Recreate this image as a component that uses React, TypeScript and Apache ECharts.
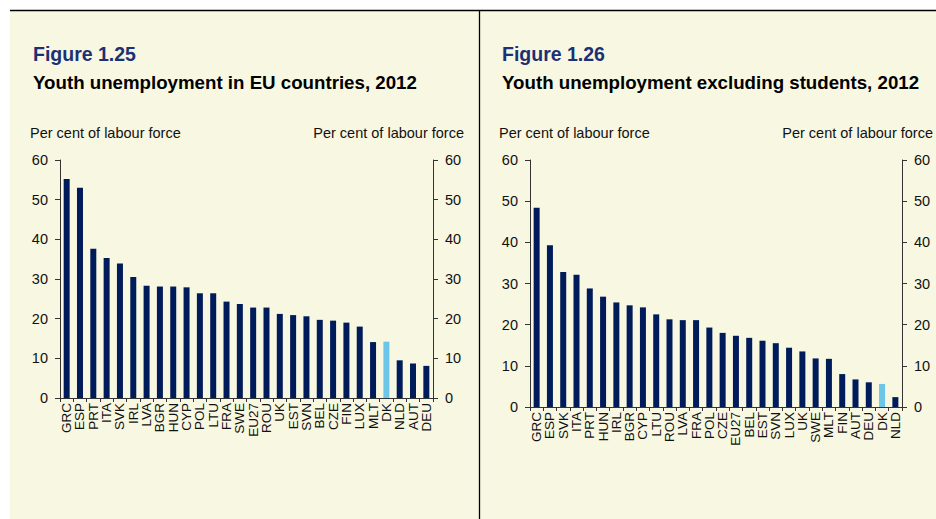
import React, { useEffect, useRef } from "react";
import * as echarts from "echarts";

const leftCategories = ["GRC","ESP","PRT","ITA","SVK","IRL","LVA","BGR","HUN","CYP","POL","LTU","FRA","SWE","EU27","ROU","UK","EST","SVN","BEL","CZE","FIN","LUX","MLT","DK","NLD","AUT","DEU"];
const leftValues = [55.2,53.0,37.6,35.3,33.9,30.5,28.3,28.1,28.1,27.9,26.4,26.4,24.3,23.7,22.8,22.8,21.2,20.9,20.6,19.7,19.5,19.0,18.0,14.1,14.2,9.5,8.7,8.1];

const rightCategories = ["GRC","ESP","SVK","ITA","PRT","HUN","IRL","BGR","CYP","LTU","ROU","LVA","FRA","POL","CZE","EU27","BEL","EST","SVN","LUX","UK","SWE","MLT","FIN","AUT","DEU","DK","NLD"];
const rightValues = [48.4,39.3,32.8,32.1,28.8,26.8,25.4,24.7,24.2,22.5,21.3,21.1,21.1,19.3,18.0,17.3,16.8,16.1,15.5,14.4,13.5,11.8,11.7,8.0,6.7,6.0,5.6,2.4];

const yMin = 0;
const yMax = 60;
const yInterval = 10;
const highlightCategory = "DK";

const leftFigure = "Figure 1.25";
const leftTitle = "Youth unemployment in EU countries, 2012";
const rightFigure = "Figure 1.26";
const rightTitle = "Youth unemployment excluding students, 2012";
const unitLabel = "Per cent of labour force";

const FONT = "'Liberation Sans', Arial, Helvetica, sans-serif";
const NAVY = "#001B5A";
const LIGHT = "#6DC5E8";
const BG = "#F8F7E2";
const AXIS = "#333333";
const TITLE_NAVY = "#1B3174";

export default function App() {
  const ref = useRef<HTMLDivElement>(null);
  useEffect(() => {
    document.body.style.margin = "0";
    const chart = echarts.init(ref.current!, null, { renderer: "svg" });

    const toData = (cats: string[], vals: number[]) =>
      vals.map((v, i) =>
        cats[i] === highlightCategory ? { value: v, itemStyle: { color: LIGHT } } : v
      );

    const xAxisBase = (gridIndex: number, cats: string[]) => ({
      type: "category" as const,
      gridIndex,
      data: cats,
      axisLine: { lineStyle: { color: AXIS, width: 1 } },
      axisTick: { show: true, length: 4, alignWithLabel: false, lineStyle: { color: AXIS } },
      axisLabel: {
        interval: 0,
        rotate: 90,
        margin: 5,
        fontSize: 13.5,
        fontFamily: FONT,
        color: "#111",
      },
    });

    const yAxisBase = (gridIndex: number, position: "left" | "right") => ({
      type: "value" as const,
      gridIndex,
      position,
      min: yMin,
      max: yMax,
      interval: yInterval,
      splitLine: { show: false },
      axisLine: { show: true, lineStyle: { color: AXIS, width: 1 } },
      axisTick: { show: true, length: 5, lineStyle: { color: AXIS } },
      axisLabel: { margin: 12, fontSize: 14.5, fontFamily: FONT, color: "#111" },
    });

    const text = (t: string, x: number, y: number, size: number, weight: string, fill: string, align = "left") => ({
      type: "text",
      x,
      y,
      style: {
        text: t,
        fill,
        font: `${weight} ${size}px ${FONT}`,
        align,
        verticalAlign: "middle",
      },
      z: 10,
    });

    chart.setOption({
      animation: false,
      backgroundColor: "#ffffff",
      graphic: [
        { type: "rect", shape: { x: 10, y: 10, width: 926, height: 509 }, style: { fill: BG }, z: -100 },
        { type: "line", shape: { x1: 10, y1: 10.5, x2: 936, y2: 10.5 }, style: { stroke: "#000", lineWidth: 1.3 }, z: 10 },
        { type: "line", shape: { x1: 479.5, y1: 10, x2: 479.5, y2: 519 }, style: { stroke: "#000", lineWidth: 1.3 }, z: 10 },
        text(leftFigure, 33, 54, 19.5, "bold", TITLE_NAVY),
        text(leftTitle, 33, 82, 18.7, "bold", "#000"),
        text(unitLabel, 30, 133, 14.5, "normal", "#111"),
        text(unitLabel, 464, 133, 14.5, "normal", "#111", "right"),
        text(rightFigure, 502, 54, 19.5, "bold", TITLE_NAVY),
        text(rightTitle, 502, 82, 18.7, "bold", "#000"),
        text(unitLabel, 499, 133, 14.5, "normal", "#111"),
        text(unitLabel, 933, 133, 14.5, "normal", "#111", "right"),
      ],
      grid: [
        { left: 60, right: 936 - 433, top: 160, bottom: 519 - 398 },
        { left: 530, right: 936 - 902, top: 160, bottom: 519 - 407 },
      ],
      xAxis: [xAxisBase(0, leftCategories), xAxisBase(1, rightCategories)],
      yAxis: [
        yAxisBase(0, "left"),
        yAxisBase(0, "right"),
        yAxisBase(1, "left"),
        yAxisBase(1, "right"),
      ],
      series: [
        {
          type: "bar",
          xAxisIndex: 0,
          yAxisIndex: 0,
          data: toData(leftCategories, leftValues),
          barWidth: 6,
          itemStyle: { color: NAVY },
        },
        {
          type: "bar",
          xAxisIndex: 1,
          yAxisIndex: 2,
          data: toData(rightCategories, rightValues),
          barWidth: 6,
          itemStyle: { color: NAVY },
        },
      ],
    });
    return () => chart.dispose();
  }, []);
  return <div ref={ref} style={{ width: 936, height: 519 }} />;
}
